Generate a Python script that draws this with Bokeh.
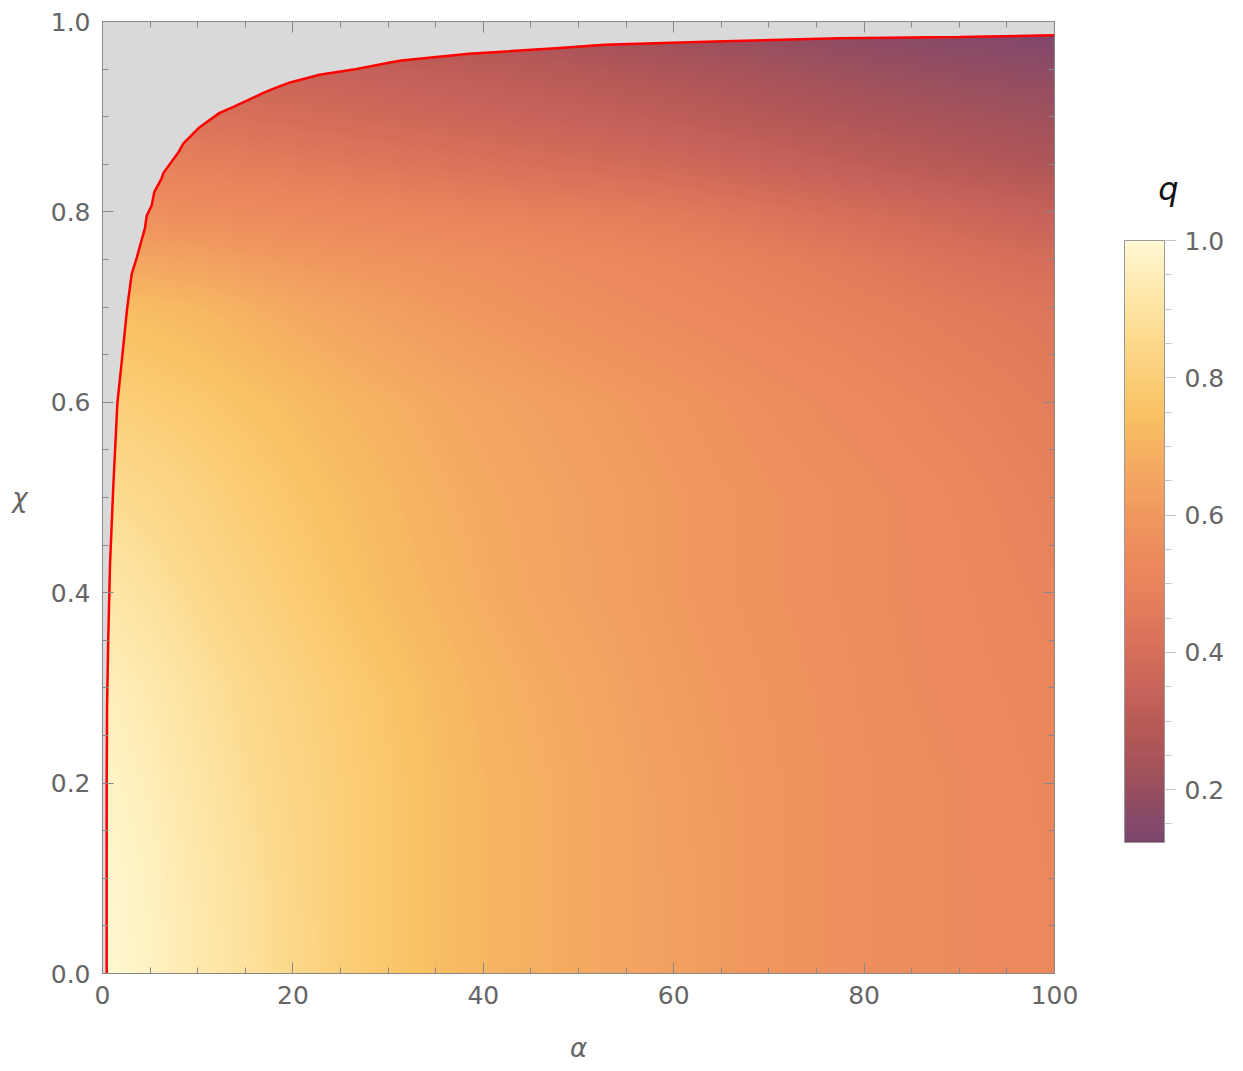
import numpy as np
from bokeh.plotting import figure
from bokeh.layouts import row
from bokeh.models import (LinearColorMapper, ColorBar, FixedTicker, LinearAxis,
                          PrintfTickFormatter, Range1d)
from bokeh.core.properties import value
from bokeh.embed import file_html
from bokeh.resources import INLINE

# ---------------- data ----------------
alpha_grid = [0, 5, 10, 15, 20, 25, 30, 35, 40, 50, 60, 70, 80, 90, 100]
chi_grid = [0.0, 0.1, 0.2, 0.3, 0.4, 0.5, 0.6, 0.7, 0.75, 0.8, 0.85, 0.9, 0.95, 1.0]

q_chi_000 = [1.00, 0.97, 0.93, 0.89, 0.85, 0.80, 0.77, 0.74, 0.71, 0.67, 0.63, 0.59, 0.56, 0.54, 0.52]
q_chi_010 = [0.995, 0.965, 0.925, 0.885, 0.845, 0.80, 0.77, 0.74, 0.71, 0.67, 0.63, 0.59, 0.56, 0.54, 0.52]
q_chi_020 = [0.98, 0.95, 0.91, 0.87, 0.835, 0.80, 0.77, 0.74, 0.71, 0.67, 0.625, 0.59, 0.56, 0.54, 0.515]
q_chi_030 = [0.96, 0.93, 0.89, 0.855, 0.82, 0.79, 0.76, 0.73, 0.70, 0.66, 0.615, 0.585, 0.555, 0.53, 0.51]
q_chi_040 = [0.92, 0.89, 0.855, 0.82, 0.79, 0.76, 0.73, 0.705, 0.68, 0.64, 0.605, 0.575, 0.55, 0.525, 0.50]
q_chi_050 = [0.87, 0.85, 0.82, 0.79, 0.765, 0.74, 0.715, 0.69, 0.67, 0.635, 0.605, 0.575, 0.55, 0.52, 0.485]
q_chi_060 = [0.81, 0.79, 0.775, 0.755, 0.735, 0.71, 0.69, 0.67, 0.65, 0.62, 0.59, 0.555, 0.525, 0.495, 0.465]
q_chi_070 = [0.74, 0.73, 0.715, 0.69, 0.665, 0.645, 0.625, 0.605, 0.59, 0.56, 0.53, 0.505, 0.48, 0.455, 0.435]
q_chi_075 = [0.66, 0.65, 0.64, 0.62, 0.605, 0.59, 0.58, 0.57, 0.56, 0.53, 0.505, 0.48, 0.45, 0.42, 0.395]
q_chi_080 = [0.57, 0.56, 0.55, 0.54, 0.53, 0.52, 0.51, 0.50, 0.49, 0.475, 0.455, 0.425, 0.395, 0.365, 0.335]
q_chi_085 = [0.50, 0.49, 0.48, 0.47, 0.46, 0.45, 0.44, 0.43, 0.42, 0.40, 0.38, 0.35, 0.32, 0.29, 0.265]
q_chi_090 = [0.44, 0.43, 0.42, 0.41, 0.40, 0.39, 0.38, 0.37, 0.36, 0.34, 0.315, 0.285, 0.26, 0.24, 0.22]
q_chi_095 = [0.37, 0.365, 0.36, 0.355, 0.35, 0.34, 0.33, 0.32, 0.31, 0.285, 0.26, 0.235, 0.21, 0.19, 0.175]
q_chi_100 = [0.30, 0.30, 0.29, 0.29, 0.28, 0.27, 0.26, 0.25, 0.24, 0.215, 0.19, 0.17, 0.155, 0.14, 0.13]

q_rows = [q_chi_000, q_chi_010, q_chi_020, q_chi_030, q_chi_040, q_chi_050, q_chi_060,
          q_chi_070, q_chi_075, q_chi_080, q_chi_085, q_chi_090, q_chi_095, q_chi_100]

# boundary of the allowed region (red curve)
boundary_alpha = [0.44, 0.44, 0.48, 0.60, 0.79, 1.13, 1.56, 2.0, 2.6, 3.07, 3.6, 4.46, 4.64,
                  5.17, 5.44, 6.2, 6.4, 8.0, 8.5, 10.2, 12.3, 13.7, 16.9, 18.1, 19.7, 22.8,
                  26.7, 30.2, 31.4, 38.5, 47.6, 52.7, 64.3, 77.3, 90.0, 100.0]
boundary_chi = [0.0, 0.2, 0.28, 0.35, 0.43, 0.511, 0.599, 0.641, 0.70, 0.735, 0.752, 0.783, 0.796,
                0.807, 0.821, 0.835, 0.841, 0.863, 0.872, 0.889, 0.904, 0.910, 0.925, 0.930, 0.936, 0.944,
                0.950, 0.957, 0.959, 0.966, 0.972, 0.9755, 0.979, 0.9825, 0.9838, 0.9855]

x_ticks = [0, 20, 40, 60, 80, 100]
x_minor = [5, 10, 15, 25, 30, 35, 45, 50, 55, 65, 70, 75, 85, 90, 95]
y_ticks = [0.0, 0.2, 0.4, 0.6, 0.8, 1.0]
y_minor = [0.05, 0.1, 0.15, 0.25, 0.3, 0.35, 0.45, 0.5, 0.55, 0.65, 0.7, 0.75, 0.85, 0.9, 0.95]
q_ticks = [0.2, 0.4, 0.6, 0.8, 1.0]
q_minor = [0.15, 0.25, 0.3, 0.35, 0.45, 0.5, 0.55, 0.65, 0.7, 0.75, 0.85, 0.9, 0.95]
q_low, q_high = 0.123, 1.0
legend_title = "q"

# colour stops of the colour bar (style)
stop_vals = [0.12, 0.15, 0.2, 0.25, 0.3, 0.35, 0.4, 0.45, 0.5, 0.55, 0.6, 0.65, 0.7, 0.75,
             0.8, 0.85, 0.9, 0.95, 1.0]
stop_cols = ["#7A466D", "#85496A", "#984F5F", "#AB5459", "#BB5B57", "#C8645A", "#D56E59",
             "#E07A5B", "#E9845C", "#ED8D5D", "#F0985F", "#F3A561", "#F6B262", "#F9C264",
             "#FBCE78", "#FCD88A", "#FDE3A0", "#FEEDB6", "#FFF8D2"]


def hex2rgb(h):
    return [int(h[i:i + 2], 16) for i in (1, 3, 5)]


rgb = np.array([hex2rgb(c) for c in stop_cols], dtype=float)
tt = np.linspace(q_low, q_high, 256)
palette = []
for t in tt:
    r = np.interp(t, stop_vals, rgb[:, 0])
    g = np.interp(t, stop_vals, rgb[:, 1])
    b = np.interp(t, stop_vals, rgb[:, 2])
    palette.append("#%02x%02x%02x" % (int(round(r)), int(round(g)), int(round(b))))

mapper = LinearColorMapper(palette=palette, low=q_low, high=q_high)

# smooth rendering of the grid (bilinear resampling for display)
Q = np.array(q_rows, dtype=float)
nx, ny = 480, 480
fa = np.linspace(0, 100, nx)
fc = np.linspace(0, 1, ny)
tmp = np.array([np.interp(fa, alpha_grid, row_) for row_ in Q])          # (len chi, nx)
img = np.array([np.interp(fc, chi_grid, tmp[:, j]) for j in range(nx)]).T  # (ny, nx)

FONT = "DejaVu Sans"
GRAY = "#666666"
FRAME = "#888888"

p = figure(frame_width=952, frame_height=952,
           x_range=Range1d(0, 100), y_range=Range1d(0, 1),
           output_backend="svg", toolbar_location=None,
           min_border_left=102, min_border_top=21, min_border_right=30, min_border_bottom=90,
           x_axis_location="below", y_axis_location="left")
p.grid.visible = False
p.outline_line_color = FRAME
p.background_fill_color = "#d9d9d9"

p.image(image=[img], x=0, y=0, dw=100, dh=1, color_mapper=mapper)

# gray (not allowed) region above the red boundary
patch_x = [0] + boundary_alpha + [100, 0]
patch_y = [0] + boundary_chi + [1, 1]
p.patch(patch_x, patch_y, fill_color="#d9d9d9", line_color=None)
p.line(boundary_alpha, boundary_chi, line_color="#ff0000", line_width=2.5)

for ax, ticks, minor in ((p.xaxis[0], x_ticks, x_minor), (p.yaxis[0], y_ticks, y_minor)):
    ax.ticker = FixedTicker(ticks=ticks, minor_ticks=minor)
    ax.axis_line_color = FRAME
    ax.major_tick_line_color = FRAME
    ax.minor_tick_line_color = FRAME
    ax.major_tick_in = 11
    ax.major_tick_out = 0
    ax.minor_tick_in = 6
    ax.minor_tick_out = 0
    ax.major_label_text_font = FONT
    ax.major_label_text_font_size = "25px"
    ax.major_label_text_color = GRAY
    ax.axis_label_text_font = FONT
    ax.axis_label_text_font_size = "26px"
    ax.axis_label_text_color = GRAY
    ax.axis_label_text_font_style = "italic"

p.xaxis[0].axis_label = "α"
p.xaxis[0].major_label_standoff = 12
p.xaxis[0].axis_label_standoff = 26
p.yaxis[0].axis_label = "χ"
p.yaxis[0].formatter = PrintfTickFormatter(format="%.1f")
p.yaxis[0].major_label_standoff = 12
p.yaxis[0].axis_label_standoff = 20
p.yaxis[0].axis_label_orientation = "horizontal"

for loc, ticks, minor in (("above", x_ticks, x_minor), ("right", y_ticks, y_minor)):
    ax = LinearAxis(ticker=FixedTicker(ticks=ticks, minor_ticks=minor))
    ax.axis_line_color = FRAME
    ax.major_tick_line_color = FRAME
    ax.minor_tick_line_color = FRAME
    ax.major_tick_in = 11
    ax.major_tick_out = 0
    ax.minor_tick_in = 6
    ax.minor_tick_out = 0
    ax.major_label_text_font_size = "10px"
    ax.major_label_text_color = None
    ax.major_label_standoff = 0
    p.add_layout(ax, loc)

# ---------------- legend panel (colour bar + its title) ----------------
LW, LH = 159, 1060
leg = figure(width=LW, height=LH, x_range=Range1d(0, LW), y_range=Range1d(0, LH),
             output_backend="svg", toolbar_location=None,
             min_border=0, x_axis_location=None, y_axis_location=None)
leg.grid.visible = False
leg.outline_line_color = None

cb = ColorBar(color_mapper=mapper,
              ticker=FixedTicker(ticks=q_ticks, minor_ticks=q_minor),
              formatter=PrintfTickFormatter(format="%.1f"),
              width=40, height=602, padding=0, margin=0,
              location=(40, LH - 843 - 91),
              bar_line_color="#999999",
              major_tick_in=0, major_tick_out=12, major_tick_line_color="#c4c4c4",
              minor_tick_in=0, minor_tick_out=7, minor_tick_line_color="#c4c4c4",
              label_standoff=8,
              major_label_text_font=FONT, major_label_text_font_size="25px",
              major_label_text_color=GRAY,
              background_fill_color=None, border_line_color=None)
leg.add_layout(cb, "center")

leg.text(x=[84], y=[LH - 188], text=[legend_title], text_font=value(FONT),
         text_font_size="32px", text_font_style="italic", text_color="#111111",
         text_align="center", text_baseline="middle")

layout = row(p, leg)
open("out.html", "w").write(file_html(layout, INLINE))
